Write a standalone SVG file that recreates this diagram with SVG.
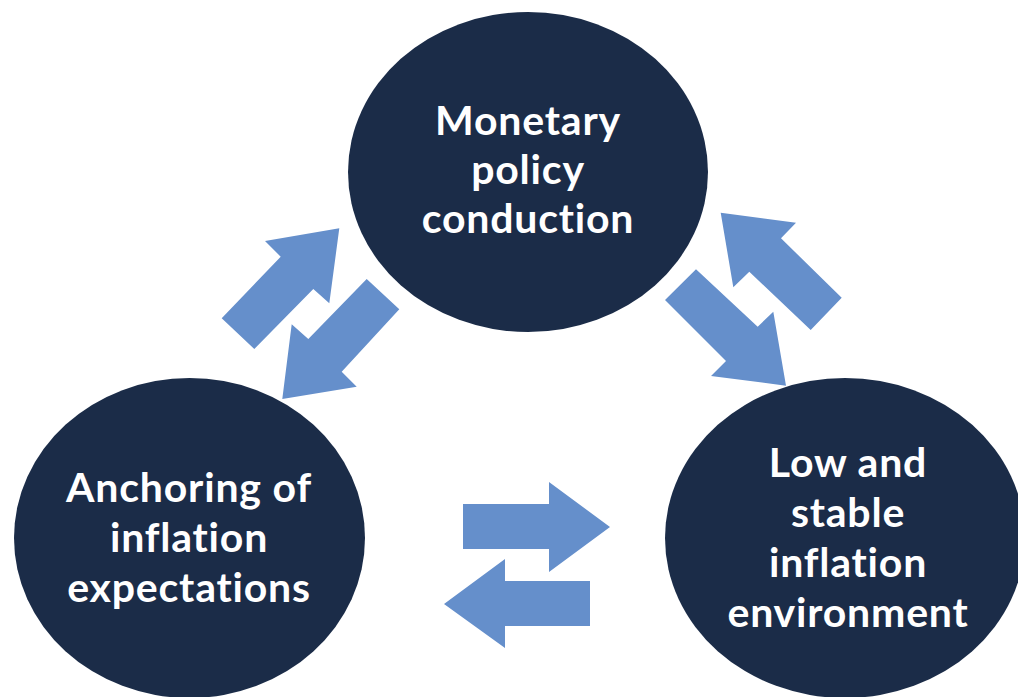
<svg xmlns="http://www.w3.org/2000/svg" width="1018" height="697" viewBox="0 0 1018 697">
  <style>
    .node { fill: #1b2c48; }
    .label { fill: #ffffff; font-family: Lato, "Open Sans", "Liberation Sans", sans-serif; font-weight: bold; font-size: 41px; letter-spacing: 0.8px; font-variant-ligatures: none; text-anchor: middle; }
    .arrow { fill: #658fcb; }
  </style>
  <rect x="0" y="0" width="1018" height="697" fill="#ffffff"/>

  <g id="connectors">
    <!-- between monetary policy and expectations -->
    <polygon class="arrow" points="221.7,318.3 280.7,256.7 265,241 339.3,228.3 329.3,303.3 313.3,289 254.3,349"/>
    <polygon class="arrow" points="366.7,279 399.3,309.3 341.7,371.7 356.7,386.7 282.3,399 291.7,324.3 308.3,339"/>
    <!-- between monetary policy and inflation environment -->
    <polygon class="arrow" points="720.7,212.7 796,222.7 781,238.3 841.7,297.7 810.7,330 749.3,271.7 733.3,287.3"/>
    <polygon class="arrow" points="665,300 696,269.3 757.7,326.7 773.3,311.7 786,385.7 711,376 726,361"/>
    <!-- between expectations and inflation environment -->
    <polygon class="arrow" points="463,504 549,504 549,482 610,527 549,572 549,549 463,549"/>
    <polygon class="arrow" points="590,581 505,581 505,559 444,604 505,648 505,626 590,626"/>
  </g>

  <g id="node-monetary-policy">
    <ellipse class="node" cx="528" cy="172" rx="180" ry="160"/>
    <text class="label" x="528" y="135">Monetary</text>
    <text class="label" x="528" y="184">policy</text>
    <text class="label" x="528" y="233">conduction</text>
  </g>

  <g id="node-expectations">
    <ellipse class="node" cx="189.5" cy="538" rx="175.5" ry="160"/>
    <text class="label" x="189" y="502">Anchoring of</text>
    <text class="label" x="189" y="552">inflation</text>
    <text class="label" x="189" y="602">expectations</text>
  </g>

  <g id="node-inflation-environment">
    <ellipse class="node" cx="845" cy="538" rx="180" ry="160"/>
    <text class="label" x="848" y="477">Low and</text>
    <text class="label" x="848" y="527">stable</text>
    <text class="label" x="848" y="577">inflation</text>
    <text class="label" x="848" y="627">environment</text>
  </g>
</svg>
